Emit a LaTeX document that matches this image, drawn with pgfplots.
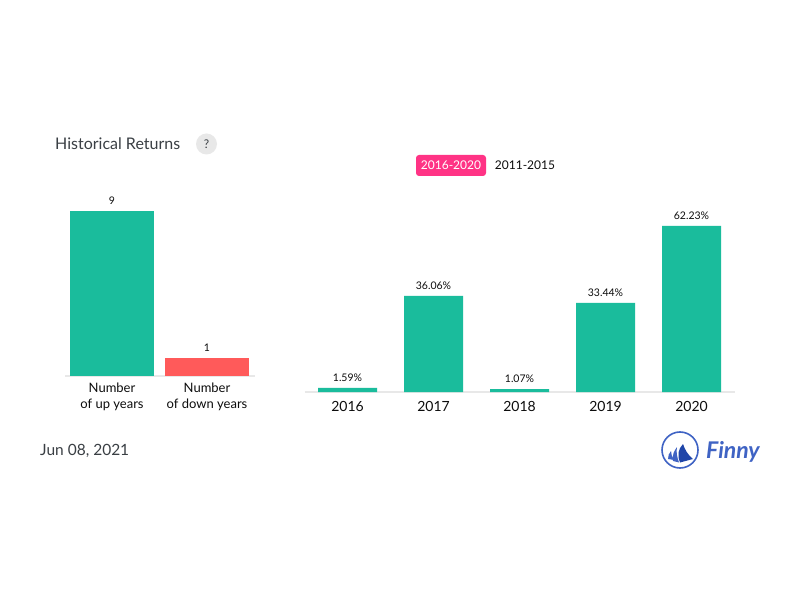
\documentclass[border=0pt]{standalone}
\usepackage{pgfplots}
\pgfplotsset{compat=1.18}
\usepackage{fontspec}
\setmainfont{Lato}
\definecolor{upgreen}{HTML}{1ABC9C}
\definecolor{downred}{HTML}{FF5A5A}
\definecolor{btnpink}{HTML}{FF3385}
\definecolor{baseline}{HTML}{E8E8E8}
\definecolor{titlecol}{HTML}{3A3F44}
\definecolor{logoblue}{HTML}{3F63C4}
\definecolor{logodark}{HTML}{1F45A8}
\newcommand{\fs}[1]{\fontsize{#1}{#1}\selectfont}
\pgfplotsset{
  common/.style={
    scale only axis, anchor=south west,
    /pgf/number format/assume math mode=true,
    axis x line*=bottom, axis y line=none,
    axis line style={draw=baseline,line width=1.2pt,-},
    x tick style={draw=none}, ytick=\empty,
    ybar, ymin=0, clip=false,
    every node near coord/.append style={font=\fs{10.5},text=black!95,inner sep=0pt,yshift=6pt,anchor=south},
    nodes near coords,
    xtick=data,
  }
}
\begin{document}
\begin{tikzpicture}[x=1pt,y=1pt]
\path[fill=white] (0,0) rectangle (800,600);
% left axis
\begin{axis}[common, at={(65pt,224pt)}, width=190pt, height=165pt,
  xmin=-0.4947, xmax=1.5053, ymax=9, bar width=84pt, bar shift=0pt,
  xtick={0,1},
  xticklabels={{Number\\of up years},{Number\\of down years}},
  xticklabel style={align=center,font=\fontsize{13}{16}\selectfont,text=black!95,inner sep=0pt,anchor=north,yshift=-2.5pt},
  nodes near coords={\pgfmathprintnumber{\pgfplotspointmeta}},
]
\addplot[fill=upgreen,draw=none] coordinates {(0,9)};
\addplot[fill=downred,draw=none] coordinates {(1,1)};
\end{axis}
% right axis
\begin{axis}[common, at={(304.5pt,208pt)}, width=430pt, height=166pt,
  xmin=2015.5, xmax=2020.5, ymax=62.23, bar width=59pt, bar shift=0pt,
  xtick={2016,2017,2018,2019,2020},
  xticklabels={2016,2017,2018,2019,2020},
  xticklabel style={font=\fs{14},text=black!95,inner sep=0pt,yshift=-5pt},
  nodes near coords={\pgfmathprintnumber[fixed,fixed zerofill,precision=2]{\pgfplotspointmeta}\%},
]
\addplot[fill=upgreen,draw=none] coordinates {(2016,1.59) (2017,36.06) (2018,1.07) (2019,33.44) (2020,62.23)};
\end{axis}
% header
\node[anchor=west,inner sep=0pt,text=titlecol,font=\fs{16}] at (55,456) {Historical Returns};
\fill[black!9] (206.5,456) circle (10.5);
\node[text=titlecol,font=\fs{12}] at (206.5,456) {?};
\fill[btnpink,rounded corners=3pt] (416,424) rectangle (486,445);
\node[text=white,font=\fs{12}] at (451,435) {2016-2020};
\node[text=black!95,font=\fs{12}] at (525,435) {2011-2015};
% date
\node[anchor=west,inner sep=0pt,text=titlecol,font=\fs{15.5}] at (40,149.5) {Jun 08, 2021};
% logo
\draw[logoblue,line width=1.6pt] (680,150) circle (18);
\fill[logoblue] (668,141) .. controls (668,144) and (669,147) .. (671,149) .. controls (671,146) and (672,143) .. (674,140) -- cycle;
\fill[logoblue] (673,139) .. controls (672,145) and (674,149) .. (677,153) .. controls (676,148) and (677,143) .. (679,137.5) -- cycle;
\fill[logodark] (680,137.5) .. controls (677,144) and (678,151) .. (683,156) .. controls (685,150) and (688,145) .. (693,141) -- cycle;
\node[anchor=west,inner sep=0pt,text=logoblue,font=\fs{23}\bfseries\itshape] at (706,148) {Finny};
\end{tikzpicture}
\end{document}
